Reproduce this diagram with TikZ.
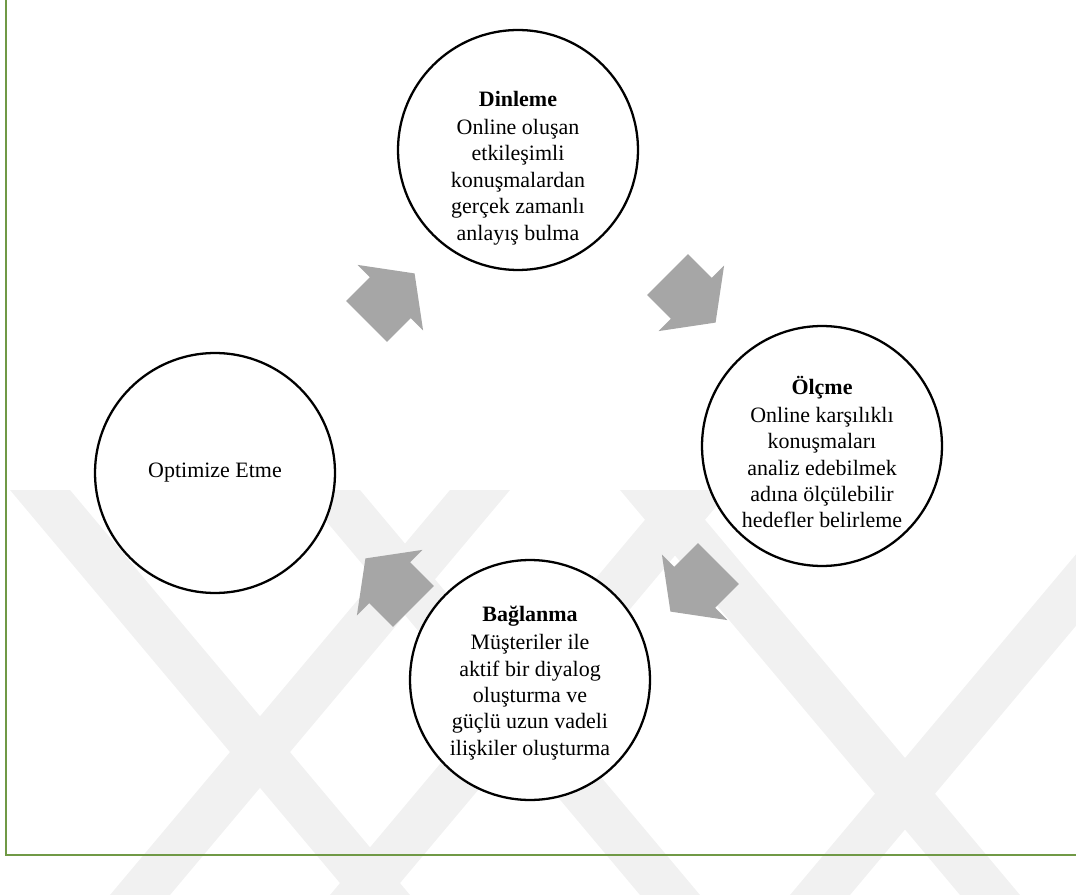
\documentclass[tikz,border=0pt]{standalone}
\usepackage{fontspec}
\setmainfont{Liberation Serif}
\usetikzlibrary{shapes.arrows}

\definecolor{framegreen}{RGB}{112,153,70}
\definecolor{arrowgray}{RGB}{166,166,166}
\definecolor{markgray}{RGB}{241,241,241}

\tikzset{
  stage/.style={circle, draw=black, line width=1.3pt, fill=white,
    minimum size=4.8cm, inner sep=0pt},
  stagetext/.style={align=center, inner sep=0pt,
    font=\fontsize{12.5}{15}\selectfont},
  cyclearrow/.style={single arrow, fill=arrowgray, draw=none,
    minimum height=1.36cm, inner xsep=0pt, inner ysep=0.57cm,
    single arrow head extend=0.35cm, single arrow tip angle=107},
  frameline/.style={draw=framegreen, line width=1.5pt}
}

\begin{document}
\begin{tikzpicture}[x=0.02cm, y=-0.02cm]
    \useasboundingbox (0,0) rectangle (1076,895);

    % faint background bands
    \foreach \t in {10,300,620}
    {
        \fill[markgray] (\t,490) -- (\t+60,490) -- (\t+400,895) -- (\t+340,895) -- cycle;
    }
    \foreach \b in {110,330,790}
    {
        \fill[markgray] (\b,895) -- (\b+60,895) -- (\b+400,490) -- (\b+340,490) -- cycle;
    }

    % frame
    \draw[frameline] (6,0) -- (6,855) -- (1076,855);

    % stages
    \node[stage] (dinleme) at (518,150) {};
    \node[stage] (olcme) at (822,446) {};
    \node[stage] (baglanma) at (530,680) {};
    \node[stage] (optimize) at (215,473) {};

    \node[stagetext] (dinleme-text) at (518,168)
        {\textbf{Dinleme}\\[1pt] Online oluşan\\ etkileşimli\\ konuşmalardan\\ gerçek zamanlı\\ anlayış bulma};
    \node[stagetext] (olcme-text) at (822,452)
        {\textbf{Ölçme}\\[1pt] Online karşılıklı\\ konuşmaları\\ analiz edebilmek\\ adına ölçülebilir\\ hedefler belirleme};
    \node[stagetext] (baglanma-text) at (530,683)
        {\textbf{Bağlanma}\\[1pt] Müşteriler ile\\ aktif bir diyalog\\ oluşturma ve\\ güçlü uzun vadeli\\ ilişkiler oluşturma};
    \node[stagetext] (optimize-text) at (215,473) {Optimize Etme};

    % cycle arrows
    \foreach \x/\y/\ang [count=\i] in {383/305/45, 684/291/-45, 702/580/-135, 397/590/135}
    {
        \node[cyclearrow, rotate=\ang] (arrow\i) at (\x,\y) {};
    }
\end{tikzpicture}
\end{document}
